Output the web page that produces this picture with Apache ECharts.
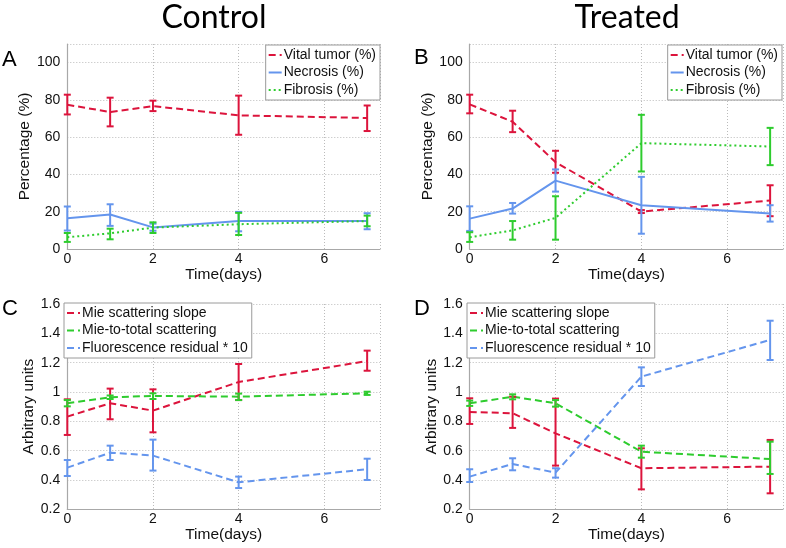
<!DOCTYPE html>
<html>
<head>
<meta charset="utf-8">
<script src="https://cdn.jsdelivr.net/npm/echarts@6/dist/echarts.min.js"></script>
<style>html,body{margin:0;padding:0;background:#fff}#c{width:786px;height:548px}</style>
</head>
<body>
<div id="c"></div>
<script>
// ---- data ----
const days = [0, 1, 2, 4, 7];
const xTicks = [0, 2, 4, 6];

// Panel A (Control) – percentages
const A_vital = [77.4, 73.5, 76.7, 71.7, 70.3];
const A_vital_lo = [72.2, 65.8, 74.0, 61.3, 63.3];
const A_vital_hi = [82.8, 81.2, 79.6, 82.3, 77.0];
const A_necr = [16.5, 18.5, 11.6, 15.0, 15.0];
const A_necr_lo = [9.9, 12.4, 9.8, 9.5, 10.6];
const A_necr_hi = [22.8, 24.0, 13.6, 19.9, 19.2];
const A_fib = [6.3, 8.4, 11.5, 13.3, 15.0];
const A_fib_lo = [3.8, 5.2, 8.6, 7.5, 12.2];
const A_fib_hi = [8.6, 10.9, 14.3, 19.4, 17.9];

// Panel B (Treated) – percentages
const B_vital = [77.6, 68.3, 46.6, 20.1, 26.0];
const B_vital_lo = [72.8, 62.7, 40.9, 19.3, 17.6];
const B_vital_hi = [82.8, 74.2, 52.7, 20.9, 34.2];
const B_necr = [16.3, 21.7, 36.7, 23.5, 19.0];
const B_necr_lo = [9.7, 19.0, 30.8, 8.2, 14.7];
const B_necr_hi = [22.9, 24.7, 42.7, 38.7, 23.5];
const B_fib = [6.3, 10.0, 16.7, 56.8, 55.0];
const B_fib_lo = [3.8, 5.0, 5.0, 41.6, 45.0];
const B_fib_hi = [9.0, 15.0, 28.3, 72.0, 65.0];

// Panel C (Control) – arbitrary units
const C_mie = [0.832, 0.923, 0.873, 1.068, 1.211];
const C_mie_lo = [0.707, 0.814, 0.725, 0.945, 1.145];
const C_mie_hi = [0.950, 1.023, 1.018, 1.191, 1.282];
const C_m2t = [0.923, 0.964, 0.973, 0.968, 0.991];
const C_m2t_lo = [0.902, 0.952, 0.952, 0.945, 0.980];
const C_m2t_hi = [0.945, 0.976, 0.991, 0.989, 1.002];
const C_flu = [0.484, 0.586, 0.566, 0.384, 0.473];
const C_flu_lo = [0.427, 0.536, 0.464, 0.345, 0.400];
const C_flu_hi = [0.536, 0.634, 0.675, 0.423, 0.545];

// Panel D (Treated) – arbitrary units
const D_mie = [0.864, 0.855, 0.718, 0.480, 0.491];
const D_mie_lo = [0.782, 0.755, 0.498, 0.336, 0.309];
const D_mie_hi = [0.957, 0.968, 0.955, 0.616, 0.673];
const D_m2t = [0.923, 0.968, 0.923, 0.593, 0.543];
const D_m2t_lo = [0.905, 0.950, 0.900, 0.552, 0.441];
const D_m2t_hi = [0.941, 0.984, 0.945, 0.634, 0.661];
const D_flu = [0.423, 0.509, 0.450, 1.105, 1.355];
const D_flu_lo = [0.386, 0.466, 0.416, 1.041, 1.218];
const D_flu_hi = [0.473, 0.548, 0.480, 1.168, 1.486];

const namesTop = ['Vital tumor (%)', 'Necrosis (%)', 'Fibrosis (%)'];
const namesBot = ['Mie scattering slope', 'Mie-to-total scattering', 'Fluorescence residual * 10'];
const panelTitles = ['Control', 'Treated'];
const panelLetters = ['A', 'B', 'C', 'D'];

// ---- styling ----
const RED = '#dc143c', BLUE = '#6495ed', GREEN = '#2ecc2e';
const FONT = 'Liberation Sans, Arial, sans-serif';

const grids = [
  {left: 67.3, top: 44, width: 312.7, height: 205},
  {left: 469.7, top: 44, width: 313.3, height: 205},
  {left: 67.3, top: 304, width: 312.7, height: 205.3},
  {left: 469.7, top: 304, width: 313.3, height: 205.3}
];

function xAx(i) {
  return {
    type: 'value', gridIndex: i, min: 0, max: 7.3, interval: 2,
    name: 'Time(days)', nameLocation: 'middle', nameGap: 17,
    nameTextStyle: {fontFamily: FONT, fontSize: 15.5, color: '#111'},
    axisLine: {lineStyle: {color: '#a8a8a8', width: 1.2}},
    axisTick: {show: false},
    axisLabel: {margin: 3, fontFamily: FONT, fontSize: 14, color: '#111', showMaxLabel: false},
    splitLine: {show: true, showMinLine: false, lineStyle: {color: '#bbb', type: [1, 2], width: 1}}
  };
}
function yAx(i, top) {
  return {
    type: 'value', gridIndex: i,
    min: top ? 0 : 0.2, max: top ? 110 : 1.6, interval: top ? 20 : 0.2,
    offset: 4,
    name: top ? 'Percentage (%)' : 'Arbitrary units', nameLocation: 'middle', nameGap: 24,
    nameTextStyle: {fontFamily: FONT, fontSize: 15.5, color: '#111'},
    axisLine: {show: true, lineStyle: {color: '#a8a8a8', width: 1.2}},
    axisTick: {show: false},
    axisLabel: {margin: 3, fontFamily: FONT, fontSize: 14, color: '#111', showMaxLabel: !top,
      formatter: v => top ? String(v) : String(Math.round(v * 10) / 10)},
    splitLine: {show: true, lineStyle: {color: '#bbb', type: [1, 2], width: 1}}
  };
}

function lineSeries(gi, name, vals, color, dash) {
  return {
    type: 'line', name: name, xAxisIndex: gi, yAxisIndex: gi,
    data: days.map((d, k) => [d, vals[k]]),
    symbol: 'none', z: 2,
    lineStyle: {color: color, width: 2, type: dash},
    itemStyle: {color: color}
  };
}
function errSeries(gi, lo, hi, color) {
  return {
    type: 'custom', xAxisIndex: gi, yAxisIndex: gi, z: 3, silent: true,
    data: days.map((d, k) => [d, lo[k], hi[k]]),
    encode: {x: 0, y: [1, 2]},
    renderItem: function (params, api) {
      const x = api.value(0);
      const p1 = api.coord([x, api.value(1)]);
      const p2 = api.coord([x, api.value(2)]);
      const w = 3.5;
      const st = {stroke: color, lineWidth: 2};
      return {type: 'group', children: [
        {type: 'line', shape: {x1: p1[0], y1: p1[1], x2: p2[0], y2: p2[1]}, style: st},
        {type: 'line', shape: {x1: p1[0] - w, y1: p1[1], x2: p1[0] + w, y2: p1[1]}, style: st},
        {type: 'line', shape: {x1: p2[0] - w, y1: p2[1], x2: p2[0] + w, y2: p2[1]}, style: st}
      ]};
    }
  };
}

const DASH = [7, 4], DOT = [2, 3];
const series = [];
function addTop(gi, v, vl, vh, n, nl, nh, f, fl, fh) {
  series.push(lineSeries(gi, namesTop[0], v, RED, DASH));
  series.push(lineSeries(gi, namesTop[1], n, BLUE, 'solid'));
  series.push(lineSeries(gi, namesTop[2], f, GREEN, DOT));
  series.push(errSeries(gi, vl, vh, RED));
  series.push(errSeries(gi, nl, nh, BLUE));
  series.push(errSeries(gi, fl, fh, GREEN));
}
function addBot(gi, m, ml, mh, t, tl, th, f, fl, fh) {
  series.push(lineSeries(gi, namesBot[0], m, RED, DASH));
  series.push(lineSeries(gi, namesBot[1], t, GREEN, DASH));
  series.push(lineSeries(gi, namesBot[2], f, BLUE, DASH));
  series.push(errSeries(gi, ml, mh, RED));
  series.push(errSeries(gi, tl, th, GREEN));
  series.push(errSeries(gi, fl, fh, BLUE));
}
addTop(0, A_vital, A_vital_lo, A_vital_hi, A_necr, A_necr_lo, A_necr_hi, A_fib, A_fib_lo, A_fib_hi);
addTop(1, B_vital, B_vital_lo, B_vital_hi, B_necr, B_necr_lo, B_necr_hi, B_fib, B_fib_lo, B_fib_hi);
addBot(2, C_mie, C_mie_lo, C_mie_hi, C_m2t, C_m2t_lo, C_m2t_hi, C_flu, C_flu_lo, C_flu_hi);
addBot(3, D_mie, D_mie_lo, D_mie_hi, D_m2t, D_m2t_lo, D_m2t_hi, D_flu, D_flu_lo, D_flu_hi);

function legend(data, pos) {
  return Object.assign({
    orient: 'vertical', align: 'left', data: data,
    backgroundColor: '#fff', borderColor: '#9a9a9a', borderWidth: 1,
    padding: [3, 4, 3, 2], itemWidth: 13, itemHeight: 14, itemGap: 3.5,
    selectedMode: false, z: 10,
    itemStyle: {opacity: 0},
    textStyle: {fontFamily: FONT, fontSize: 14, color: '#111', padding: [0, 0, 0, -3]}
  }, pos);
}

const chart = echarts.init(document.getElementById('c'), null, {renderer: 'canvas'});
chart.setOption({
  animation: false,
  backgroundColor: '#fff',
  grid: grids,
  xAxis: [0, 1, 2, 3].map(xAx),
  yAxis: [yAx(0, true), yAx(1, true), yAx(2, false), yAx(3, false)],
  legend: [
    legend(namesTop, {right: 406, top: 45}),
    legend(namesTop, {right: 4, top: 45}),
    legend(namesBot, {left: 64, top: 303}),
    legend(namesBot, {left: 467, top: 303})
  ],
  graphic: [
    {type: 'text', x: 214, y: 18, style: {text: panelTitles[0], font: '32px Lato, sans-serif', fill: '#000', align: 'center', verticalAlign: 'middle'}},
    {type: 'text', x: 627, y: 18, style: {text: panelTitles[1], font: '32px Lato, sans-serif', fill: '#000', align: 'center', verticalAlign: 'middle'}},
    {type: 'text', x: 2, y: 60, style: {text: panelLetters[0], font: '22px Liberation Sans, Arial', fill: '#000', verticalAlign: 'middle'}},
    {type: 'text', x: 414, y: 58, style: {text: panelLetters[1], font: '22px Liberation Sans, Arial', fill: '#000', verticalAlign: 'middle'}},
    {type: 'text', x: 2, y: 309, style: {text: panelLetters[2], font: '22px Liberation Sans, Arial', fill: '#000', verticalAlign: 'middle'}},
    {type: 'text', x: 414, y: 309, style: {text: panelLetters[3], font: '22px Liberation Sans, Arial', fill: '#000', verticalAlign: 'middle'}}
  ],
  series: series
});
</script>
</body>
</html>
